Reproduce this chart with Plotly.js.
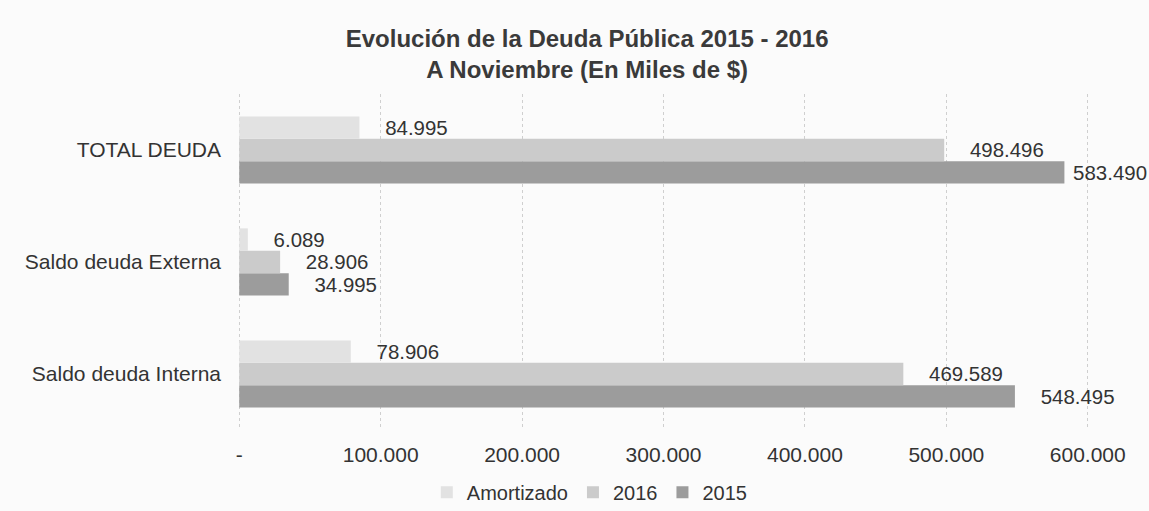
<!DOCTYPE html>
<html>
<head>
<meta charset="utf-8">
<script src="https://cdn.plot.ly/plotly-3.0.1.min.js"></script>
<style>html,body{margin:0;padding:0;background:#fbfbfb;}#chart{width:1149px;height:511px;}</style>
</head>
<body>
<div id="chart"></div>
<script>
const categories = ["Saldo deuda Interna", "Saldo deuda Externa", "TOTAL DEUDA"];
const amortizado = [78906, 6089, 84995];
const serie2016 = [469589, 28906, 498496];
const serie2015 = [548495, 34995, 583490];
const tickValues = [0, 100000, 200000, 300000, 400000, 500000, 600000];
const tickLabels = ["-", "100.000", "200.000", "300.000", "400.000", "500.000", "600.000"];

const textFont = {family: "Liberation Sans, Arial, sans-serif", size: 21, color: "#333333"};
const legendFont = {family: "Liberation Sans, Arial, sans-serif", size: 20, color: "#333333"};

const pad4 = "\u00a0\u00a0\u00a0\u00a0%{x:,.0f}";
const pad1 = "\u00a0%{x:,.0f}";

function trace(name, vals, color, tmpl) {
  return {
    type: "bar", orientation: "h", name: name,
    y: categories, x: vals,
    marker: {color: color},
    texttemplate: tmpl, textposition: "outside",
    textfont: textFont, cliponaxis: false, hoverinfo: "skip"
  };
}

const data = [
  trace("2015", serie2015, "#9c9c9c", [pad4, pad4, pad1]),
  trace("2016", serie2016, "#cbcbcb", pad4),
  trace("Amortizado", amortizado, "#e2e2e2", pad4)
];

const layout = {
  width: 1149, height: 511,
  paper_bgcolor: "#fbfbfb", plot_bgcolor: "#fbfbfb",
  separators: ",.",
  barmode: "group", bargap: 0.4, bargroupgap: 0,
  margin: {l: 235, r: 57, t: 94, b: 81, autoexpand: false},
  title: {
    text: "<b>Evolución de la Deuda Pública 2015 - 2016<br>A Noviembre (En Miles de $)</b>",
    font: {family: "Liberation Sans, Arial, sans-serif", size: 24, color: "#3a3a3a"},
    x: 0.511, xanchor: "center", xref: "container",
    y: 0.909, yanchor: "top", yref: "container"
  },
  xaxis: {
    range: [-3000, 603000], tickvals: tickValues, ticktext: tickLabels,
    showgrid: true, gridcolor: "#cfcfcf", griddash: "dot", gridwidth: 1,
    zeroline: false, showline: false, ticks: "", tickangle: 0,
    tickfont: textFont, fixedrange: true, automargin: false,
    ticklabelstandoff: 10
  },
  yaxis: {
    showgrid: false, zeroline: false, showline: false, ticks: "",
    tickfont: textFont, automargin: false, ticklabelstandoff: 13
  },
  legend: {
    orientation: "h", traceorder: "reversed",
    x: 0.414, xref: "paper", xanchor: "center",
    y: -0.185, yanchor: "middle",
    font: legendFont, itemwidth: 30, entrywidth: 0
  },
  showlegend: true
};

Plotly.newPlot("chart", data, layout, {displayModeBar: false, staticPlot: true});
</script>
</body>
</html>
